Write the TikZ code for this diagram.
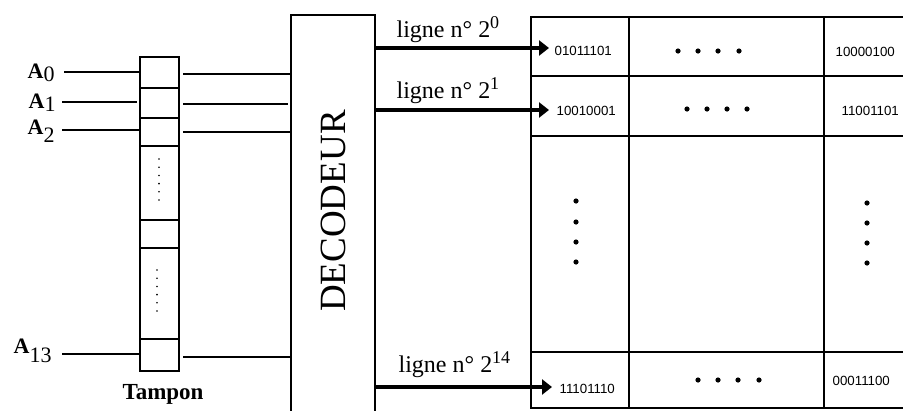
\documentclass[tikz,border=0pt]{standalone}
\usepackage{fontspec}
\setmainfont{Liberation Serif}
\newfontfamily\numfont{Liberation Sans}
\usetikzlibrary{arrows.meta}
\begin{document}
\begin{tikzpicture}[x=1pt,y=-1pt,line width=1.3pt,
  bigarrow/.style={line width=4pt,-{Triangle[length=10pt,width=15pt]}},
  bits/.style={font=\numfont\fontsize{13.3}{13}\selectfont,inner sep=0pt,anchor=base west},
  lbl/.style={font=\fontsize{24}{24}\selectfont,inner sep=0pt,anchor=base west},
  addr/.style={font=\fontsize{22}{22}\selectfont,inner sep=0pt,anchor=base west},
  sub/.style={}
]
\useasboundingbox (0,0) rectangle (903,410);
% ---------- address labels ----------
\node[addr] (a0) at (27,78) {\textbf{A}\raisebox{-3pt}{\fontsize{22}{22}\selectfont 0}};
\node[addr] (a1) at (28,108) {\textbf{A}\raisebox{-3pt}{\fontsize{22}{22}\selectfont 1}};
\node[addr] (a2) at (27,134) {\textbf{A}\raisebox{-8pt}{\fontsize{22}{22}\selectfont 2}};
\node[addr] (a13) at (13,353) {\textbf{A}\raisebox{-9pt}{\fontsize{22}{22}\selectfont 13}};
% ---------- buffer (Tampon) ----------
\draw (140,57) rectangle (179,371);
\foreach \yy in {88,118,146,220,248,339} \draw (140,\yy) -- (179,\yy);
\foreach \k in {0,...,5} {
  \fill (159,159+8.2*\k) circle (0.9);
  \fill (157,270+8.2*\k) circle (0.9);
}
\node[font=\bfseries\fontsize{23}{23}\selectfont,inner sep=0pt,anchor=base] (tampon) at (163,399) {Tampon};
% input lines
\coordinate (i0s) at (64,72);  \coordinate (i0e) at (140,72);
\coordinate (i1s) at (62,102); \coordinate (i1e) at (137,102);
\coordinate (i2s) at (62,130); \coordinate (i2e) at (140,130);
\coordinate (i13s) at (62,354); \coordinate (i13e) at (140,354);
\draw (i0s) -- (i0e); \draw (i1s) -- (i1e); \draw (i2s) -- (i2e); \draw (i13s) -- (i13e);
% output lines to decoder
\coordinate (o0s) at (183,74);  \coordinate (o0e) at (291,74);
\coordinate (o1s) at (183,104); \coordinate (o1e) at (288,104);
\coordinate (o2s) at (183,132); \coordinate (o2e) at (291,132);
\coordinate (o13s) at (183,357); \coordinate (o13e) at (291,357);
\draw (o0s) -- (o0e); \draw (o1s) -- (o1e); \draw (o2s) -- (o2e); \draw (o13s) -- (o13e);
% ---------- decoder ----------
\draw (291,420) -- (291,15) -- (375,15) -- (375,420);
\node[rotate=90,font=\fontsize{37}{37}\selectfont,inner sep=0pt] (dec) at (333,211) {DECODEUR};
% ---------- memory table ----------
\draw (920,17) -- (531,17) -- (531,408) -- (920,408);
\foreach \yy in {76,136,352} \draw (531,\yy) -- (920,\yy);
\foreach \xx in {629,824} \draw (\xx,17) -- (\xx,408);
% arrows
\coordinate (d0) at (375,48);  \coordinate (m0) at (549,48);
\coordinate (d1) at (375,110); \coordinate (m1) at (549,110);
\coordinate (d14) at (375,387); \coordinate (m14) at (552,387);
\draw[bigarrow] (d0) -- (m0);
\draw[bigarrow] (d1) -- (m1);
\draw[bigarrow] (d14) -- (m14);
\node[lbl] (l0) at (396,37) {ligne n° 2\raisebox{9pt}{\fontsize{18}{18}\selectfont 0}};
\node[lbl] (l1) at (396,98) {ligne n° 2\raisebox{9pt}{\fontsize{18}{18}\selectfont 1}};
\node[lbl] (l14) at (398,372) {ligne n° 2\raisebox{9pt}{\fontsize{18}{18}\selectfont 14}};
% bit patterns
\node[bits] (b00) at (554,55) {01011101};
\node[bits] (b10) at (556,115) {10010001};
\node[bits] (b140) at (559,393) {11101110};
\node[bits] (b02) at (835,56) {10000100};
\node[bits] (b12) at (841,115) {11001101};
\node[bits] (b142) at (832,385) {00011100};
% dots
\foreach \xx in {678,698,718,739} \fill (\xx,51) circle (2.6);
\foreach \xx in {687,707,727,747} \fill (\xx,109) circle (2.6);
\foreach \xx in {698,718,738,759} \fill (\xx,380) circle (2.6);
\foreach \yy in {201,222,242,262} \fill (576,\yy) circle (2.6);
\foreach \yy in {203,223,243,263} \fill (867,\yy) circle (2.6);
\end{tikzpicture}
\end{document}
